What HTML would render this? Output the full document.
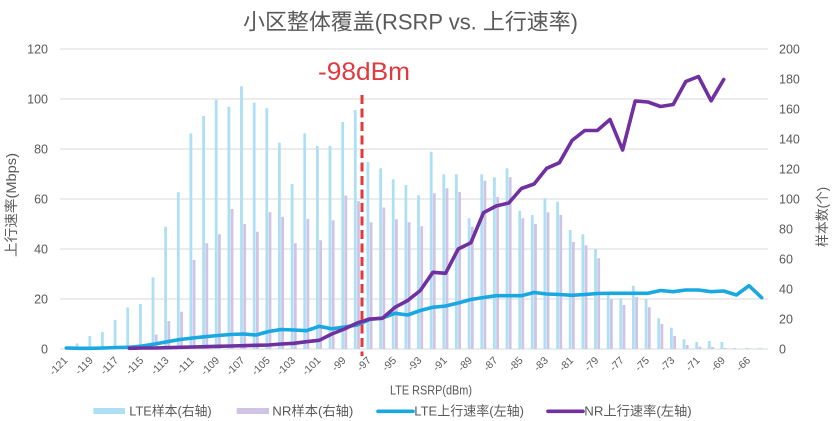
<!DOCTYPE html>
<html>
<head>
<meta charset="utf-8">
<style>
html,body{margin:0;padding:0;background:#fff;}
body{width:836px;height:421px;overflow:hidden;}
svg{display:block;}
text{font-family:"Liberation Sans","Noto Sans CJK SC",sans-serif;fill:#595959;}
</style>
</head>
<body>
<svg width="836" height="421" viewBox="0 0 836 421" xmlns="http://www.w3.org/2000/svg">
<rect x="0" y="0" width="836" height="421" fill="#fff"/>
<text x="410.5" y="29.5" font-size="22" text-anchor="middle" textLength="335" lengthAdjust="spacingAndGlyphs">小区整体覆盖(RSRP vs. 上行速率)</text>
<path d="M60 49H768M60 99H768M60 149H768M60 199H768M60 249H768M60 299H768M60 349H768" stroke="#d9d9d9" stroke-width="1" fill="none"/>
<path fill="#ade0f5" d="M75.7 349V343.5h2.8V349z M88.4 349V336h2.8V349z M101 349V332h2.8V349z M113.7 349V320h2.8V349z M126.3 349V307.5h2.8V349z M139 349V304h2.8V349z M151.6 349V277.3h2.8V349z M164.2 349V226.7h2.8V349z M176.9 349V192.2h2.8V349z M189.5 349V133.3h2.8V349z M202.2 349V116h2.8V349z M214.8 349V99.7h2.8V349z M227.5 349V106.7h2.8V349z M240.1 349V86.3h2.8V349z M252.8 349V102.7h2.8V349z M265.4 349V108.3h2.8V349z M278 349V142.7h2.8V349z M290.7 349V184h2.8V349z M303.3 349V133.3h2.8V349z M316 349V146h2.8V349z M328.6 349V146h2.8V349z M341.3 349V122h2.8V349z M353.9 349V110h2.8V349z M366.5 349V162h2.8V349z M379.2 349V168.3h2.8V349z M391.8 349V179.3h2.8V349z M404.5 349V185h2.8V349z M417.1 349V195.3h2.8V349z M429.8 349V151.7h2.8V349z M442.4 349V174.3h2.8V349z M455 349V174.3h2.8V349z M467.7 349V218.3h2.8V349z M480.3 349V174.3h2.8V349z M493 349V177.3h2.8V349z M505.6 349V168.3h2.8V349z M518.3 349V210.7h2.8V349z M530.9 349V215h2.8V349z M543.5 349V198.3h2.8V349z M556.2 349V201.7h2.8V349z M568.8 349V230h2.8V349z M581.5 349V234.3h2.8V349z M594.1 349V249.3h2.8V349z M606.8 349V295h2.8V349z M619.4 349V298.3h2.8V349z M632 349V285.7h2.8V349z M644.7 349V299.3h2.8V349z M657.3 349V318.3h2.8V349z M670 349V327.7h2.8V349z M682.6 349V339.3h2.8V349z M695.3 349V342h2.8V349z M707.9 349V341h2.8V349z M720.5 349V342h2.8V349z M733.2 349V348h2.8V349z M745.8 349V348h2.8V349z M758.5 349V348h2.8V349z"/>
<path fill="#d0c4e4" d="M154.8 349V334.5h2.8V349z M167.4 349V321h2.8V349z M180.1 349V311.7h2.8V349z M192.7 349V260h2.8V349z M205.4 349V243.3h2.8V349z M218 349V234.3h2.8V349z M230.7 349V209h2.8V349z M243.3 349V224h2.8V349z M256 349V231.7h2.8V349z M268.6 349V212.3h2.8V349z M281.2 349V216.7h2.8V349z M293.9 349V243.3h2.8V349z M306.5 349V219h2.8V349z M319.2 349V240.3h2.8V349z M331.8 349V220.3h2.8V349z M344.4 349V195.5h2.8V349z M357.1 349V201.3h2.8V349z M369.7 349V222.3h2.8V349z M382.4 349V207.5h2.8V349z M395 349V219.2h2.8V349z M407.7 349V222.3h2.8V349z M420.3 349V226.3h2.8V349z M432.9 349V193.3h2.8V349z M445.6 349V188.3h2.8V349z M458.2 349V192h2.8V349z M470.9 349V226.7h2.8V349z M483.5 349V180.7h2.8V349z M496.2 349V197h2.8V349z M508.8 349V177.3h2.8V349z M521.4 349V218.3h2.8V349z M534.1 349V224h2.8V349z M546.7 349V212.2h2.8V349z M559.4 349V215h2.8V349z M572 349V242h2.8V349z M584.7 349V245.3h2.8V349z M597.3 349V258.3h2.8V349z M610 349V299.3h2.8V349z M622.6 349V305h2.8V349z M635.2 349V297h2.8V349z M647.9 349V307.3h2.8V349z M660.5 349V324h2.8V349z M673.2 349V336h2.8V349z M685.8 349V345h2.8V349z M698.5 349V346.7h2.8V349z M711.1 349V347h2.8V349z M723.7 349V348h2.8V349z"/>
<polyline fill="none" stroke="#1aa8e0" stroke-width="3.6" stroke-linejoin="round" stroke-linecap="round" points="66.3,348 78.9,348.3 91.6,348.3 104.2,348 116.9,347.5 129.5,347.3 142.2,346 154.8,344 167.4,341.7 180.1,339.5 192.7,338 205.4,336.7 218,335.5 230.7,334.5 243.3,334 256,335 268.6,331.5 281.2,329.5 293.9,330 306.5,330.7 319.2,326.3 331.8,328.8 344.4,327 357.1,325 369.7,319.5 382.4,318 395,313.3 407.7,315 420.3,310.5 432.9,307.3 445.6,306 458.2,303 470.9,299.5 483.5,297.5 496.2,295.7 508.8,295.7 521.4,295.7 534.1,292.5 546.7,294 559.4,294.5 572,295.3 584.7,294.5 597.3,293.5 610,293.3 622.6,293.3 635.2,293.3 647.9,293.3 660.5,290.5 673.2,291.7 685.8,290 698.5,290 711.1,291.7 723.7,291 736.4,295 749,285.7 761.7,297.7"/>
<polyline fill="none" stroke="#7030a0" stroke-width="3.6" stroke-linejoin="round" stroke-linecap="round" points="129.5,348.3 142.2,348 154.8,348 167.4,347.7 180.1,347.3 192.7,347 205.4,346.7 218,346.3 230.7,346 243.3,345.7 256,345.3 268.6,345 281.2,344 293.9,343.3 306.5,341.7 319.2,340.3 331.8,334 344.4,329 357.1,323 369.7,319 382.4,318.3 395,307.3 407.7,300.5 420.3,290.5 432.9,272.3 445.6,273.3 458.2,249 470.9,242.7 483.5,212.7 496.2,206 508.8,203 521.4,188.5 534.1,184 546.7,168.3 559.4,162.7 572,140.5 584.7,130.5 597.3,130.5 610,119.5 622.6,150 635.2,101 647.9,102 660.5,106.5 673.2,104.5 685.8,81.5 698.5,76.5 711.1,100.8 723.7,79.5"/>
<line x1="362" y1="95" x2="362" y2="356" stroke="#e03a3c" stroke-width="3" stroke-dasharray="9,4.5"/>
<text x="318" y="80" font-size="25" textLength="92" lengthAdjust="spacingAndGlyphs" style="fill:#e0393e">-98dBm</text>
<text x="48" y="53.5" font-size="12.5" text-anchor="end">120</text>
<text x="48" y="103.5" font-size="12.5" text-anchor="end">100</text>
<text x="48" y="153.5" font-size="12.5" text-anchor="end">80</text>
<text x="48" y="203.5" font-size="12.5" text-anchor="end">60</text>
<text x="48" y="253.5" font-size="12.5" text-anchor="end">40</text>
<text x="48" y="303.5" font-size="12.5" text-anchor="end">20</text>
<text x="48" y="353.5" font-size="12.5" text-anchor="end">0</text>
<text x="779" y="53.5" font-size="12.5">200</text>
<text x="779" y="83.5" font-size="12.5">180</text>
<text x="779" y="113.5" font-size="12.5">160</text>
<text x="779" y="143.5" font-size="12.5">140</text>
<text x="779" y="173.5" font-size="12.5">120</text>
<text x="779" y="203.5" font-size="12.5">100</text>
<text x="779" y="233.5" font-size="12.5">80</text>
<text x="779" y="263.5" font-size="12.5">60</text>
<text x="779" y="293.5" font-size="12.5">40</text>
<text x="779" y="323.5" font-size="12.5">20</text>
<text x="779" y="353.5" font-size="12.5">0</text>
<text transform="translate(16,205) rotate(-90)" font-size="13.5" text-anchor="middle" textLength="104" lengthAdjust="spacingAndGlyphs">上行速率(Mbps)</text>
<text transform="translate(827,217) rotate(-90)" font-size="13.5" text-anchor="middle" textLength="60" lengthAdjust="spacingAndGlyphs">样本数(个)</text>
<text x="390" y="394.5" font-size="12.5" textLength="82" lengthAdjust="spacingAndGlyphs">LTE RSRP(dBm)</text>
<g font-size="10.5" text-anchor="end">
<text transform="translate(68.3,361) rotate(-45)">-121</text>
<text transform="translate(93.6,361) rotate(-45)">-119</text>
<text transform="translate(118.9,361) rotate(-45)">-117</text>
<text transform="translate(144.2,361) rotate(-45)">-115</text>
<text transform="translate(169.4,361) rotate(-45)">-113</text>
<text transform="translate(194.7,361) rotate(-45)">-111</text>
<text transform="translate(220,361) rotate(-45)">-109</text>
<text transform="translate(245.3,361) rotate(-45)">-107</text>
<text transform="translate(270.6,361) rotate(-45)">-105</text>
<text transform="translate(295.9,361) rotate(-45)">-103</text>
<text transform="translate(321.2,361) rotate(-45)">-101</text>
<text transform="translate(346.5,361) rotate(-45)">-99</text>
<text transform="translate(371.7,361) rotate(-45)">-97</text>
<text transform="translate(397,361) rotate(-45)">-95</text>
<text transform="translate(422.3,361) rotate(-45)">-93</text>
<text transform="translate(447.6,361) rotate(-45)">-91</text>
<text transform="translate(472.9,361) rotate(-45)">-89</text>
<text transform="translate(498.2,361) rotate(-45)">-87</text>
<text transform="translate(523.5,361) rotate(-45)">-85</text>
<text transform="translate(548.7,361) rotate(-45)">-83</text>
<text transform="translate(574,361) rotate(-45)">-81</text>
<text transform="translate(599.3,361) rotate(-45)">-79</text>
<text transform="translate(624.6,361) rotate(-45)">-77</text>
<text transform="translate(649.9,361) rotate(-45)">-75</text>
<text transform="translate(675.2,361) rotate(-45)">-73</text>
<text transform="translate(700.5,361) rotate(-45)">-71</text>
<text transform="translate(725.7,361) rotate(-45)">-69</text>
<text transform="translate(751,361) rotate(-45)">-66</text>
</g>
<rect x="93.3" y="408" width="31.7" height="6" fill="#ade0f5"/>
<text x="129.3" y="415.5" font-size="13" textLength="82.4" lengthAdjust="spacingAndGlyphs">LTE样本(右轴)</text>
<rect x="236.7" y="408" width="32.3" height="6" fill="#d0c4e4"/>
<text x="272.3" y="415.5" font-size="13" textLength="81" lengthAdjust="spacingAndGlyphs">NR样本(右轴)</text>
<line x1="378" y1="411.3" x2="413" y2="411.3" stroke="#1aa8e0" stroke-width="3.6" stroke-linecap="round"/>
<text x="414.3" y="415.5" font-size="13" textLength="109.7" lengthAdjust="spacingAndGlyphs">LTE上行速率(左轴)</text>
<line x1="548" y1="411.3" x2="583" y2="411.3" stroke="#7030a0" stroke-width="3.6" stroke-linecap="round"/>
<text x="584.3" y="415.5" font-size="13" textLength="107.4" lengthAdjust="spacingAndGlyphs">NR上行速率(左轴)</text>
</svg>
</body>
</html>
